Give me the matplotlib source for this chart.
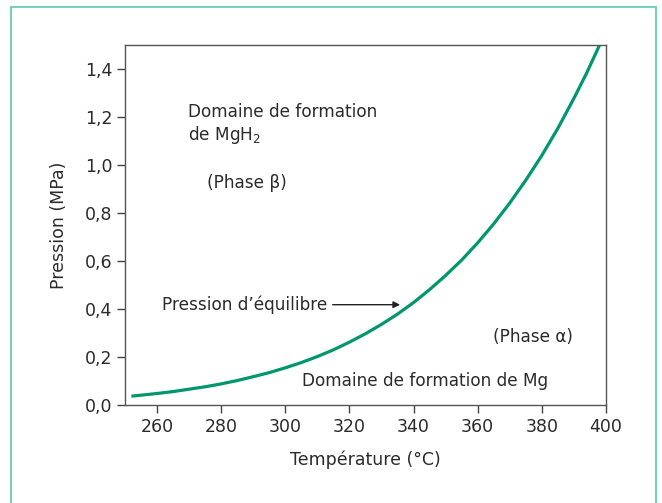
import numpy as np
import matplotlib.pyplot as plt
from matplotlib.patches import Rectangle

# equilibrium curve
temperature = [252, 255, 260, 265, 270, 275, 280, 285, 290, 295, 300, 305, 310, 315,
               320, 325, 330, 335, 340, 345, 350, 355, 360, 365, 370, 375, 380, 385,
               390, 394, 398]
pressure = [0.037, 0.041, 0.048, 0.056, 0.066, 0.076, 0.088, 0.102, 0.118, 0.135,
            0.155, 0.177, 0.202, 0.230, 0.262, 0.297, 0.336, 0.379, 0.427, 0.481,
            0.540, 0.604, 0.676, 0.755, 0.842, 0.937, 1.04, 1.153, 1.278, 1.384, 1.50]
xticks = [260, 280, 300, 320, 340, 360, 380, 400]
yticks = [0.0, 0.2, 0.4, 0.6, 0.8, 1.0, 1.2, 1.4]
ytick_labels = ['0,0', '0,2', '0,4', '0,6', '0,8', '1,0', '1,2', '1,4']

green = '#00966e'
txt = '#2b2b2b'

fig = plt.figure(figsize=(6.62, 5.03), dpi=100)
fig.patches.append(Rectangle((11 / 662, -0.05), (656 - 11) / 662, 1.05 - 7 / 503,
                             transform=fig.transFigure, fill=False,
                             edgecolor='#74d2bc', lw=1.5))
ax = fig.add_axes([0.1888, 0.1948, 0.7266, 0.7157])

ax.plot(temperature, pressure, color=green, lw=2.3, solid_capstyle='butt')

ax.set_xlim(250, 400)
ax.set_ylim(0, 1.5)
ax.set_xticks(xticks)
ax.set_yticks(yticks)
ax.set_yticklabels(ytick_labels)
ax.tick_params(direction='out', length=6, width=1, color='#444444',
               labelsize=12.5, labelcolor=txt, pad=3)
ax.tick_params(top=False, right=False)
for s in ax.spines.values():
    s.set_color('#555555')
    s.set_linewidth(1)

ax.set_xlabel('Température (°C)', fontsize=12.5, color=txt, labelpad=11)
ax.set_ylabel('Pression (MPa)', fontsize=12.5, color=txt, labelpad=12)

fs = 12.2
ax.text(269.7, 1.219, 'Domaine de formation', fontsize=fs, color=txt, va='center')
ax.text(269.7, 1.123, 'de MgH$_2$', fontsize=fs, color=txt, va='center')
ax.text(275.6, 0.927, '(Phase β)', fontsize=fs, color=txt, va='center')
ax.text(364.8, 0.284, '(Phase α)', fontsize=fs, color=txt, va='center')
ax.text(305.2, 0.100, 'Domaine de formation de Mg', fontsize=fs, color=txt, va='center')
ax.annotate('Pression d’équilibre', xy=(335.8, 0.418), xytext=(261.5, 0.418),
            fontsize=fs, color=txt, va='center',
            arrowprops=dict(arrowstyle='-|>', color='#222222', lw=1,
                            mutation_scale=10, shrinkA=2, shrinkB=0))

fig.savefig('out.png', dpi=100)
